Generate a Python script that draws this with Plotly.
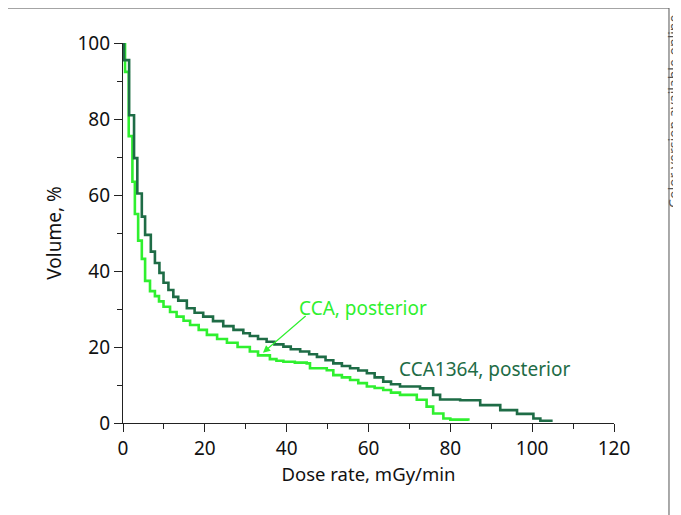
import plotly.graph_objects as go

# CCA1364, posterior (dark green) - step points: (drop position, new level)
dark_x = [0, 0.25, 1.5, 2.7, 3.5, 4.6, 5.4, 6.8, 7.8, 8.9, 9.9, 11.1, 12.3, 13.5, 15.6,
          17.5, 19.6, 22, 24.5, 27, 29.4, 31, 33, 35.1, 37, 39.2, 41, 43.3, 45.5, 47.4,
          49.5, 51.4, 53.5, 55.5, 57.5, 59.6, 61.5, 63.6, 65.5, 67.7, 72.6, 75.8, 77.5,
          82.4, 87.3, 92.2, 96.3, 100.3, 102, 105]
dark_y = [100, 95.5, 81, 69.7, 60.4, 54.3, 49.5, 45.1, 42.1, 39.5, 36.9, 35, 33.2, 32.2, 30.2,
          29, 28, 26.8, 25.5, 24.5, 23.6, 22.9, 22.1, 21.4, 20.7, 20.1, 19.4, 18.8, 18.1, 17.4,
          16.5, 15.7, 15.0, 14.4, 13.8, 13.1, 12.0, 10.9, 10.2, 9.6, 9.1, 7.4, 6.2,
          6.0, 4.7, 3.4, 2.4, 1.2, 0.6, 0.6]

# CCA, posterior (bright green)
light_x = [0, 0.5, 1.4, 2.3, 2.9, 3.7, 4.6, 5.4, 6.6, 7.8, 8.8, 9.9, 11.5, 13.1, 14.8,
           16.4, 18.5, 20.5, 23, 25.4, 28, 31, 33, 35.9, 37.5, 39.2, 42, 44.9, 45.7, 49.8,
           51.4, 53.5, 55.5, 57.5, 59.6, 61.5, 63.6, 65.5, 67.7, 71.8, 74.2, 75.8, 78.3, 80, 84.4]
light_y = [100, 92.4, 75.5, 63.5, 55, 48, 43.2, 37.4, 34.7, 33.4, 32, 30.6, 29.2, 28, 26.9,
           25.8, 24.5, 23.2, 22.1, 21.1, 20, 18.8, 17.8, 16.8, 16.4, 16.1, 15.9, 15.7, 14.4, 13.9,
           12.6, 12.0, 11.3, 10.5, 9.6, 9.2, 8.7, 8.0, 7.4, 6.1, 4.3, 2.5, 1.2, 0.9, 0.6]

x_ticks = [0, 20, 40, 60, 80, 100, 120]
y_ticks = [0, 20, 40, 60, 80, 100]

DARK = "#1e6c46"
LIGHT = "#2ff02f"
FONT = "Noto Sans"

fig = go.Figure()
fig.add_trace(go.Scatter(x=light_x, y=light_y, mode="lines", line_shape="hv",
                         line=dict(color=LIGHT, width=2.6), name="CCA, posterior"))
fig.add_trace(go.Scatter(x=dark_x, y=dark_y, mode="lines", line_shape="hv",
                         line=dict(color=DARK, width=2.6), name="CCA1364, posterior"))

axis_common = dict(showline=True, linecolor="#222", linewidth=1.2, ticks="outside",
                   ticklen=8, tickcolor="#222", showgrid=False, zeroline=False,
                   tickfont=dict(family=FONT, size=19, color="#111"),
                   minor=dict(ticks="outside", ticklen=5, dtick=10, tickcolor="#222", showgrid=False))

fig.update_xaxes(range=[0, 120], tickvals=x_ticks, **axis_common,
                 title=dict(text="Dose rate, mGy/min", font=dict(family=FONT, size=18.5, color="#111"),
                            standoff=8))
fig.update_yaxes(range=[0, 100], tickvals=y_ticks, **axis_common,
                 title=dict(text="Volume, %", font=dict(family=FONT, size=19, color="#111"),
                            standoff=10))

fig.add_annotation(x=34.2, y=18.5, ax=45, ay=28.5, axref="x", ayref="y",
                   text="", showarrow=True, arrowhead=2, arrowsize=1.2, arrowwidth=1.2,
                   arrowcolor=LIGHT)
fig.add_annotation(x=58.7, y=30.3, text="CCA, posterior", showarrow=False,
                   font=dict(family=FONT, size=19, color=LIGHT))
fig.add_annotation(x=88.3, y=14.2, text="CCA1364, posterior", showarrow=False,
                   font=dict(family=FONT, size=19, color=DARK))

# frame
fig.add_shape(type="rect", xref="paper", yref="paper", x0=-0.2403, x1=1.112, y0=-0.3, y1=1.092,
              line=dict(color="#555", width=1))
fig.add_annotation(xref="paper", yref="paper", x=1.146, y=0.56, xanchor="right", yanchor="bottom",
                   text="Color version available online",
                   textangle=-90, showarrow=False, font=dict(family=FONT, size=14, color="#555"))

fig.update_layout(width=681, height=515, margin=dict(l=115, r=75, t=35, b=100),
                  plot_bgcolor="white", paper_bgcolor="white", showlegend=False)

fig.write_html("out.html")
